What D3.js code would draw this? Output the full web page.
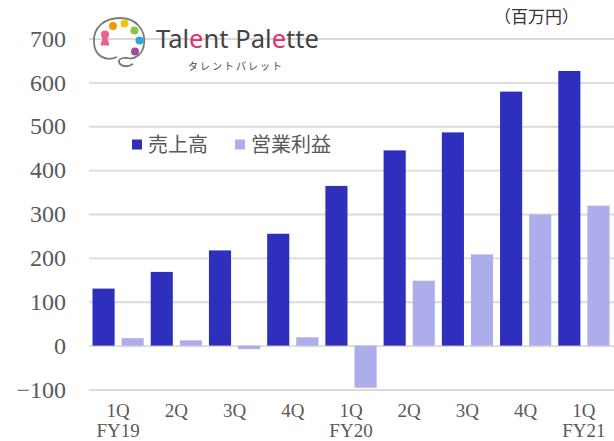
<!DOCTYPE html>
<html lang="ja">
<head>
  <meta charset="UTF-8">
  <title>Talent Palette 売上高・営業利益</title>
  <style>
    body { margin: 0; background: #fff; }
    svg { display: block; }
  </style>
</head>
<body>
  <svg id="svg" width="614" height="441"></svg>

  <script src="https://d3js.org/d3.v7.min.js"></script>
  <script>
    // chart data (百万円)
    const quarters = ['1Q', '2Q', '3Q', '4Q', '1Q', '2Q', '3Q', '4Q', '1Q']
    const fiscalYears = ['FY19', '', '', '', 'FY20', '', '', '', 'FY21']
    const sales = [130, 168, 217, 255, 364, 445, 486, 579, 626]
    const opProfit = [17, 12, -8, 19, -96, 148, 208, 299, 319]
    const seriesNames = ['売上高', '営業利益']
    const yTicks = [-100, 0, 100, 200, 300, 400, 500, 600, 700]
    const colors = ['#2f2fbd', '#adadeb']

    const serif = '"Liberation Serif", "Times New Roman", serif'
    const jp = '"Noto Sans CJK JP", "Noto Sans", sans-serif'
    const grey = '#595959'

    const svg = d3.select('#svg')

    const left = 89, right = 613

    // x scales
    const x0 = d3.scaleBand()
      .domain(d3.range(quarters.length))
      .range([left, right])

    const x1 = d3.scaleBand()
      .domain(seriesNames)
      .range([0, x0.bandwidth()])
      .paddingInner(0.24)
      .paddingOuter(0.12)

    // y scale
    const y = d3.scaleLinear()
      .domain([-100, 700])
      .range([389.5, 38.5])

    // grid + left labels
    const leftAxis = d3.axisLeft(y)
      .tickValues(yTicks)
      .tickSize(-(614 - left))
      .tickPadding(23)

    const gy = svg.append('g')
      .attr('transform', `translate(${left}, 0)`)
      .call(leftAxis)
    gy.select('.domain').remove()
    gy.selectAll('line').attr('stroke', '#dadada').attr('stroke-width', 1.8)
    gy.selectAll('text')
      .attr('fill', grey)
      .style('font-family', serif)
      .style('font-size', '24px')

    // logo (drawn over the top grid line)
    const logo = svg.append('g')
    logo.append('path')
      .attr('d', 'M117 57 C106 62 94 56 94 42 C93 27 105 18 120 18 C136 18 146 30 144 44 C143 54 135 60 127 58 C121 57 117 60 120 64 C123 67 129 67 133 64')
      .attr('fill', 'none')
      .attr('stroke', '#7a7a7a')
      .attr('stroke-width', 1.8)
    const dots = [[113, 26, '#f39800'], [124.5, 23.5, '#f5c21a'], [134.5, 30.5, '#8cc63f'], [139.5, 40.5, '#29a8e0'], [135, 51.5, '#a14a9a']]
    logo.selectAll('circle.dot')
      .data(dots)
      .enter()
      .append('circle')
      .attr('cx', d => d[0])
      .attr('cy', d => d[1])
      .attr('r', 4)
      .attr('fill', d => d[2])
    logo.append('circle').attr('cx', 105).attr('cy', 34.5).attr('r', 4).attr('fill', '#e8638e')
    logo.append('path').attr('d', 'M103 36 L107 36 L109.5 45.5 L100.5 45.5 Z').attr('fill', '#e8638e')

    const logoText = logo.append('text')
      .attr('x', 156)
      .attr('y', 48)
      .attr('textLength', 163)
      .attr('lengthAdjust', 'spacingAndGlyphs')
      .attr('fill', '#444')
      .style('font-family', '"Noto Sans", "Open Sans", sans-serif')
      .style('font-size', '25px')
    const parts = [['Tal', '#444'], ['e', '#e0306e'], ['nt Pal', '#444'], ['e', '#e0306e'], ['tte', '#444']]
    parts.forEach(p => logoText.append('tspan').attr('fill', p[1]).text(p[0]))

    logo.append('text')
      .attr('x', 188)
      .attr('y', 69.5)
      .attr('textLength', 94)
      .attr('fill', '#444')
      .style('font-family', jp)
      .style('font-size', '10px')
      .text('タレントパレット')

    // unit
    svg.append('text')
      .attr('x', 494)
      .attr('y', 23)
      .attr('textLength', 85)
      .attr('fill', '#333')
      .style('font-family', jp)
      .style('font-size', '17px')
      .text('（百万円）')

    // bars
    const rows = quarters.map((q, i) => ({ i, values: [sales[i], opProfit[i]] }))

    const groups = svg.append('g')
      .selectAll('g')
      .data(rows)
      .enter()
      .append('g')
      .attr('transform', d => `translate(${x0(d.i)}, 0)`)

    groups.selectAll('rect')
      .data(d => d.values.map((v, k) => ({ key: seriesNames[k], k, v })))
      .enter()
      .append('rect')
      .attr('x', d => x1(d.key))
      .attr('y', d => y(Math.max(0, d.v)))
      .attr('width', x1.bandwidth())
      .attr('height', d => Math.abs(y(d.v) - y(0)))
      .attr('fill', d => colors[d.k])

    // bottom labels
    const bottomAxis = d3.axisBottom(x0)
      .tickFormat(i => quarters[i])
      .tickSize(0)
      .tickPadding(0)

    const gx = svg.append('g')
      .attr('transform', 'translate(0, 403)')
      .call(bottomAxis)
    gx.select('.domain').remove()
    gx.selectAll('text')
      .attr('fill', grey)
      .style('font-family', serif)
      .style('font-size', '19px')
    gx.selectAll('.tick')
      .append('text')
      .attr('y', 34)
      .attr('fill', grey)
      .attr('text-anchor', 'middle')
      .style('font-family', serif)
      .style('font-size', '19px')
      .text(i => fiscalYears[i])

    // legend
    const legend = svg.append('g')
    const legendX = [132, 235]
    seriesNames.forEach((name, k) => {
      legend.append('rect')
        .attr('x', legendX[k])
        .attr('y', 139.5)
        .attr('width', 10)
        .attr('height', 10)
        .attr('fill', colors[k])
      legend.append('text')
        .attr('x', legendX[k] + 16)
        .attr('y', 145)
        .attr('dy', '0.35em')
        .attr('fill', grey)
        .style('font-family', jp)
        .style('font-size', '20px')
        .text(name)
    })
  </script>
</body>
</html>
